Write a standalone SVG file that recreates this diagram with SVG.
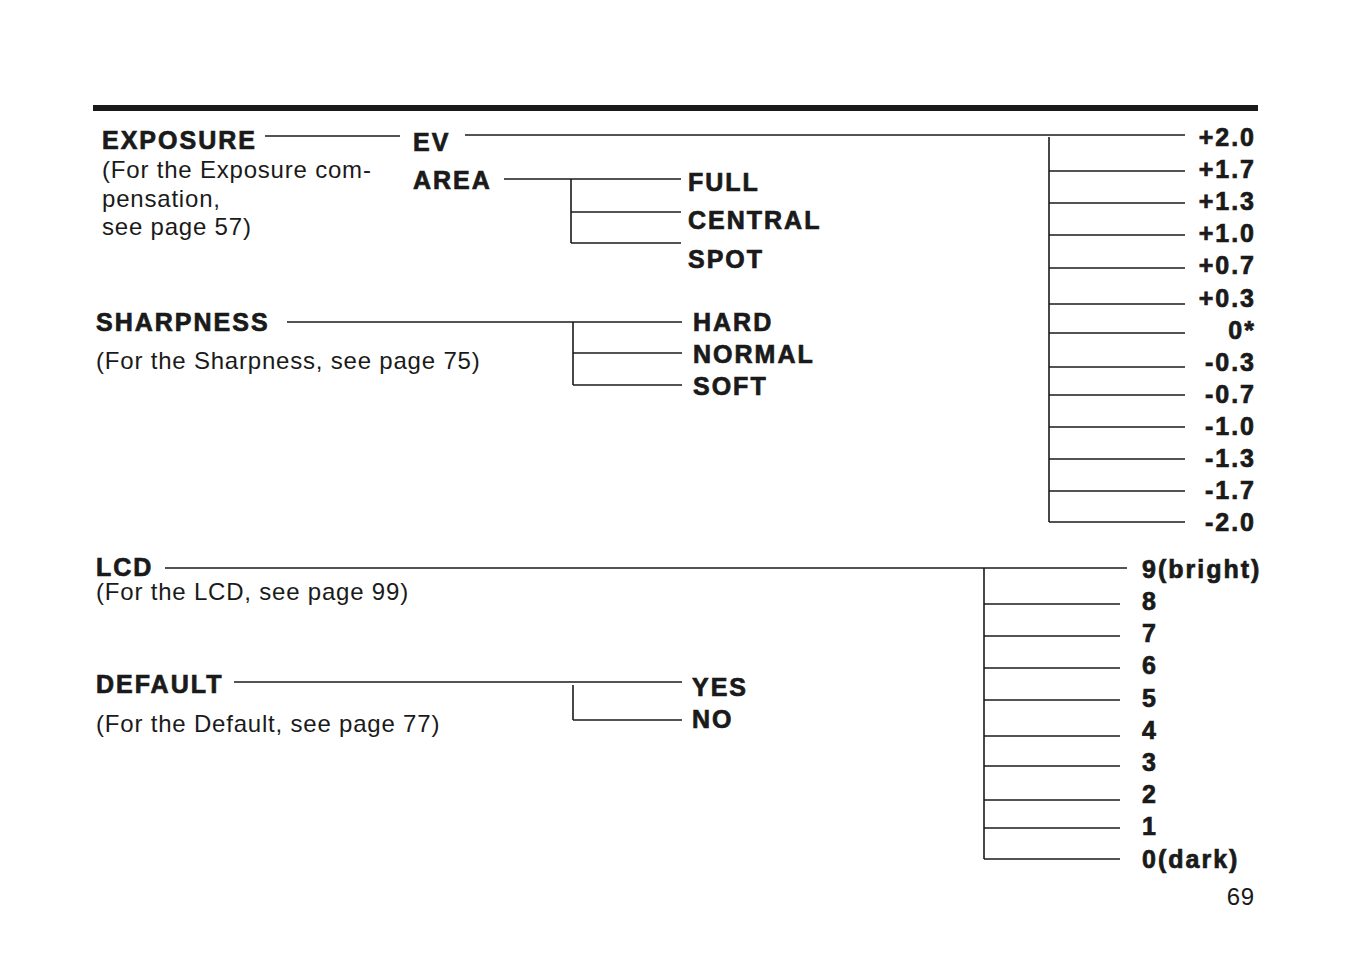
<svg xmlns="http://www.w3.org/2000/svg" width="1346" height="954" viewBox="0 0 1346 954">
<style>
.b{font-family:"Liberation Sans",Arial,sans-serif;font-weight:bold;font-size:25px;fill:#1a1a1a;stroke:#1a1a1a;stroke-width:0.7px;letter-spacing:2px}
.r{font-family:"Liberation Sans",Arial,sans-serif;font-size:24px;fill:#1a1a1a;letter-spacing:0.8px}
.e{text-anchor:end}
line{stroke:#1a1a1a;stroke-width:1.6}
</style>
<rect x="0" y="0" width="1346" height="954" fill="#fff"/>
<rect x="93" y="105" width="1165" height="6" fill="#1a1a1a"/>
<g id="connectors">
<line x1="265" y1="136" x2="400" y2="136"/>
<line x1="465" y1="135" x2="1185" y2="135"/>
<line x1="1049" y1="137" x2="1049" y2="522"/>
<line x1="1049" y1="171" x2="1185" y2="171"/>
<line x1="1049" y1="203" x2="1185" y2="203"/>
<line x1="1049" y1="235" x2="1185" y2="235"/>
<line x1="1049" y1="268" x2="1185" y2="268"/>
<line x1="1049" y1="304" x2="1185" y2="304"/>
<line x1="1049" y1="333" x2="1185" y2="333"/>
<line x1="1049" y1="367" x2="1185" y2="367"/>
<line x1="1049" y1="395" x2="1185" y2="395"/>
<line x1="1049" y1="427" x2="1185" y2="427"/>
<line x1="1049" y1="459" x2="1185" y2="459"/>
<line x1="1049" y1="491" x2="1185" y2="491"/>
<line x1="1049" y1="522" x2="1185" y2="522"/>
<line x1="504" y1="179" x2="681" y2="179"/>
<line x1="571" y1="179" x2="571" y2="243"/>
<line x1="571" y1="212" x2="681" y2="212"/>
<line x1="571" y1="243" x2="681" y2="243"/>
<line x1="287" y1="322" x2="682" y2="322"/>
<line x1="573" y1="322" x2="573" y2="385"/>
<line x1="573" y1="353" x2="682" y2="353"/>
<line x1="573" y1="385" x2="682" y2="385"/>
<line x1="165" y1="568" x2="1127" y2="568"/>
<line x1="984" y1="568" x2="984" y2="859"/>
<line x1="984" y1="604" x2="1120" y2="604"/>
<line x1="984" y1="636" x2="1120" y2="636"/>
<line x1="984" y1="668" x2="1120" y2="668"/>
<line x1="984" y1="700" x2="1120" y2="700"/>
<line x1="984" y1="736" x2="1120" y2="736"/>
<line x1="984" y1="766" x2="1120" y2="766"/>
<line x1="984" y1="800" x2="1120" y2="800"/>
<line x1="984" y1="828" x2="1120" y2="828"/>
<line x1="984" y1="859" x2="1120" y2="859"/>
<line x1="234" y1="682" x2="682" y2="682"/>
<line x1="573" y1="685" x2="573" y2="720"/>
<line x1="573" y1="720" x2="682" y2="720"/>
</g>
<g id="exposure"><text class="b" x="102" y="149">EXPOSURE</text>
<text class="r" x="102" y="178">(For the Exposure com-</text>
<text class="r" x="102" y="207">pensation,</text>
<text class="r" x="102" y="235">see page 57)</text></g>
<g id="ev"><text class="b" x="413" y="151">EV</text></g>
<g id="area"><text class="b" x="413" y="189">AREA</text></g>
<g id="area-opts"><text class="b" x="688" y="191">FULL</text><text class="b" x="688" y="229">CENTRAL</text><text class="b" x="688" y="268">SPOT</text></g>
<g id="ev-opts">
<text class="b e" x="1256" y="146">+2.0</text><text class="b e" x="1256" y="178">+1.7</text>
<text class="b e" x="1256" y="210">+1.3</text><text class="b e" x="1256" y="242">+1.0</text>
<text class="b e" x="1256" y="274">+0.7</text><text class="b e" x="1256" y="307">+0.3</text>
<text class="b e" x="1256" y="339">0*</text><text class="b e" x="1256" y="371">-0.3</text>
<text class="b e" x="1256" y="403">-0.7</text><text class="b e" x="1256" y="435">-1.0</text>
<text class="b e" x="1256" y="467">-1.3</text><text class="b e" x="1256" y="499">-1.7</text>
<text class="b e" x="1256" y="531">-2.0</text></g>
<g id="sharpness"><text class="b" x="96" y="331">SHARPNESS</text>
<text class="r" x="96" y="369">(For the Sharpness, see page 75)</text></g>
<g id="sharp-opts"><text class="b" x="693" y="331">HARD</text><text class="b" x="693" y="363">NORMAL</text><text class="b" x="693" y="395">SOFT</text></g>
<g id="lcd"><text class="b" x="96" y="576">LCD</text>
<text class="r" x="96" y="600">(For the LCD, see page 99)</text></g>
<g id="lcd-opts">
<text class="b" x="1142" y="578">9(bright)</text><text class="b" x="1142" y="610">8</text>
<text class="b" x="1142" y="642">7</text><text class="b" x="1142" y="674">6</text>
<text class="b" x="1142" y="707">5</text><text class="b" x="1142" y="739">4</text>
<text class="b" x="1142" y="771">3</text><text class="b" x="1142" y="803">2</text>
<text class="b" x="1142" y="835">1</text><text class="b" x="1142" y="868">0(dark)</text></g>
<g id="default"><text class="b" x="96" y="693">DEFAULT</text>
<text class="r" x="96" y="732">(For the Default, see page 77)</text></g>
<g id="default-opts"><text class="b" x="692" y="696">YES</text><text class="b" x="692" y="728">NO</text></g>
<text class="r e" x="1255" y="905">69</text>
</svg>
